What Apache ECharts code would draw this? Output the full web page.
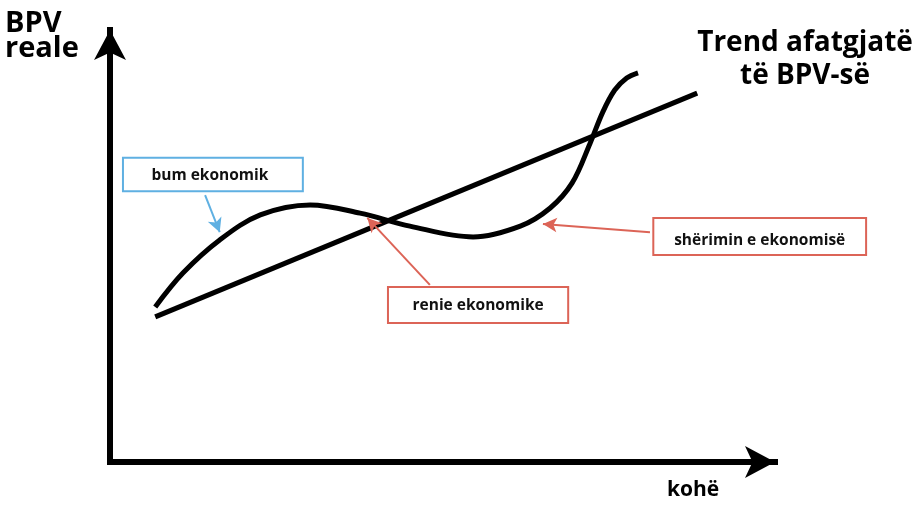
<!DOCTYPE html>
<html>
<head>
<meta charset="utf-8">
<script src="https://cdn.jsdelivr.net/npm/echarts@6/dist/echarts.min.js"></script>
<style>html,body{margin:0;padding:0;background:#fff}#c{width:916px;height:507px}</style>
</head>
<body>
<div id="c"></div>
<script>
// ---- data (arbitrary units: time on x, real GDP on y) ----
const trendX = [6.8, 88.3];
const trendY = [33.6, 85.4];
const cycleX = [6.8, 11.0, 16.5, 22.6, 30.1, 37.6, 45.1, 54.6, 61.7, 66.2, 69.5, 72.2, 74.1, 75.9, 77.7, 79.4];
const cycleY = [35.9, 43.8, 51.4, 57.2, 59.5, 57.6, 54.6, 52.1, 54.6, 58.8, 64.6, 73.8, 81.0, 86.1, 88.9, 90.1];
const axisNames = ['BPV\nreale', 'kohë'];
const trendLabel = 'Trend afatgjatë\ntë BPV-së';
// annotations: label, box corners [x0,yTop,x1,yBottom], arrow from -> to, colour key
const annLabels = ['bum ekonomik', 'renie ekonomike', 'shërimin e ekonomisë'];
const annBoxes = [[1.95, 70.4, 29.0, 62.7], [41.8, 40.5, 68.9, 32.2], [81.7, 56.5, 113.7, 47.9]];
const annFrom = [[14.3, 61.8], [48.1, 41.0], [81.2, 53.2]];
const annTo = [[16.5, 53.2], [38.7, 56.5], [65.1, 55.1]];
const annColors = ['#5fb0e2', '#dc6457', '#dc6457'];

const chart = echarts.init(document.getElementById('c'));
const axisLineStyle = { color: '#000', width: 6, cap: 'square' };
chart.setOption({
  animation: false,
  grid: { left: 110, right: 141, top: 30, bottom: 45 },
  xAxis: {
    type: 'value', min: 0, max: 100,
    axisLine: { show: true, symbol: ['none', 'arrow'], symbolSize: [24, 30], lineStyle: axisLineStyle },
    axisTick: { show: false }, axisLabel: { show: false }, splitLine: { show: false }
  },
  yAxis: {
    type: 'value', min: 0, max: 100,
    axisLine: { show: true, symbol: ['none', 'arrow'], symbolSize: [24, 30], lineStyle: axisLineStyle },
    axisTick: { show: false }, axisLabel: { show: false }, splitLine: { show: false }
  },
  series: [
    {
      type: 'line', data: trendX.map((x, i) => [x, trendY[i]]),
      showSymbol: false, lineStyle: { color: '#000', width: 5 }, silent: true
    },
    {
      type: 'line', data: cycleX.map((x, i) => [x, cycleY[i]]),
      smooth: 0.35, showSymbol: false, lineStyle: { color: '#000', width: 5 }, silent: true
    },
    {
      type: 'line', data: [], silent: true,
      markLine: {
        silent: true, animation: false,
        symbol: ['none', 'arrow'], symbolSize: [11, 14],
        label: { show: false },
        data: annFrom.map((f, i) => [
          { coord: f, lineStyle: { color: annColors[i], width: 2, type: 'solid' } },
          { coord: annTo[i] }
        ])
      }
    }
  ]
});

const graphics = [];
annBoxes.forEach((b, i) => {
  const p0 = chart.convertToPixel({ gridIndex: 0 }, [b[0], b[1]]);
  const p1 = chart.convertToPixel({ gridIndex: 0 }, [b[2], b[3]]);
  graphics.push({
    type: 'rect', shape: { x: p0[0], y: p0[1], width: p1[0] - p0[0], height: p1[1] - p0[1] },
    style: { fill: '#fff', stroke: annColors[i], lineWidth: 2 }, z: 10
  });
  graphics.push({
    type: 'text', x: (p0[0] + p1[0]) / 2 - (i === 0 ? 3 : 0), y: (p0[1] + p1[1]) / 2 + (i === 2 ? 4 : 1),
    style: { text: annLabels[i], font: 'bold 15.5px "Open Sans"', fill: '#111', align: 'center', verticalAlign: 'middle' }, z: 11
  });
});
graphics.push({
  type: 'text', left: 5, top: 9,
  style: { text: axisNames[0], font: 'bold 29px "Open Sans"', fill: '#000', lineHeight: 25, align: 'left' }
});
graphics.push({
  type: 'text', left: 667, top: 480,
  style: { text: axisNames[1], font: 'bold 21px "Open Sans"', fill: '#000' }
});
graphics.push({
  type: 'text', x: 805, y: 27,
  style: { text: trendLabel, font: 'bold 28px "Open Sans"', fill: '#000', lineHeight: 33, align: 'center' }
});
chart.setOption({ graphic: graphics });
</script>
</body>
</html>
